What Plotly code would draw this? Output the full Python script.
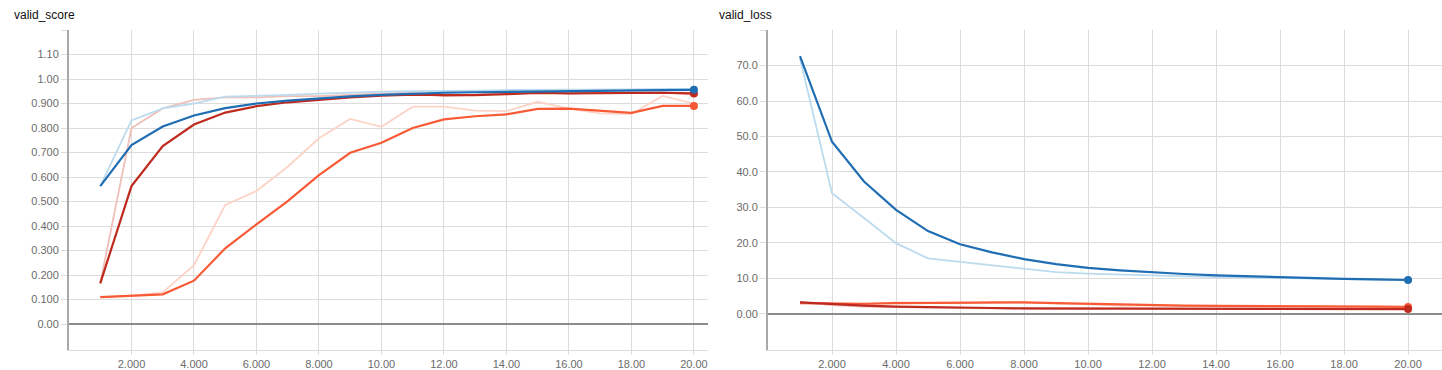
import plotly.graph_objects as go

steps = list(range(1, 21))

# valid_score (left)
score_blue = [0.563, 0.730, 0.806, 0.851, 0.881, 0.900, 0.912, 0.921, 0.929, 0.935,
              0.940, 0.944, 0.946, 0.948, 0.950, 0.952, 0.953, 0.954, 0.955, 0.956]
score_blue_raw = [0.563, 0.831, 0.880, 0.900, 0.928, 0.930, 0.935, 0.940, 0.945, 0.948,
                  0.950, 0.950, 0.952, 0.955, 0.955, 0.957, 0.958, 0.958, 0.960, 0.960]
score_red = [0.166, 0.563, 0.726, 0.814, 0.863, 0.889, 0.905, 0.916, 0.925, 0.932,
             0.936, 0.934, 0.934, 0.938, 0.943, 0.941, 0.943, 0.944, 0.944, 0.941]
score_red_raw = [0.166, 0.800, 0.880, 0.915, 0.925, 0.925, 0.930, 0.930, 0.935, 0.940,
                 0.945, 0.930, 0.935, 0.945, 0.950, 0.940, 0.945, 0.945, 0.945, 0.935]
score_orange = [0.110, 0.114, 0.121, 0.177, 0.309, 0.407, 0.502, 0.608, 0.699, 0.740,
                0.800, 0.835, 0.848, 0.856, 0.878, 0.879, 0.869, 0.862, 0.890, 0.890]
score_orange_raw = [0.110, 0.115, 0.129, 0.240, 0.486, 0.543, 0.642, 0.758, 0.837, 0.805,
                    0.887, 0.887, 0.871, 0.869, 0.907, 0.879, 0.860, 0.857, 0.931, 0.900]

# valid_loss (right)
loss_blue = [72.7, 48.5, 37.3, 29.3, 23.3, 19.6, 17.3, 15.4, 14.0, 12.9,
             12.2, 11.6, 11.2, 10.8, 10.5, 10.2, 10.0, 9.8, 9.7, 9.5]
loss_blue_raw = [72.0, 34.0, 27.0, 19.9, 15.6, 14.6, 13.7, 12.5, 11.7, 11.3,
                 11.0, 10.8, 10.5, 10.3, 10.2, 10.0, 9.8, 9.7, 9.6, 9.5]
loss_red = [3.2, 2.7, 2.3, 2.0, 1.8, 1.7, 1.6, 1.5, 1.5, 1.4,
            1.4, 1.4, 1.4, 1.35, 1.35, 1.3, 1.3, 1.3, 1.3, 1.3]
loss_red_raw = [3.3, 2.4, 2.0, 1.8, 1.6, 1.6, 1.5, 1.4, 1.4, 1.3,
                1.4, 1.3, 1.4, 1.3, 1.3, 1.3, 1.3, 1.3, 1.3, 1.3]
loss_orange = [3.0, 2.9, 2.8, 3.0, 3.1, 3.0, 3.2, 3.2, 3.0, 2.8,
               2.5, 2.4, 2.3, 2.2, 2.2, 2.1, 2.1, 2.0, 2.0, 1.9]
loss_orange_raw = [3.0, 2.8, 2.7, 3.2, 3.1, 2.9, 3.3, 3.2, 2.9, 2.6,
                   2.3, 2.3, 2.2, 2.1, 2.2, 2.0, 2.1, 1.9, 2.0, 1.8]

score_ticks = [0.0, 0.1, 0.2, 0.3, 0.4, 0.5, 0.6, 0.7, 0.8, 0.9, 1.0, 1.1, 1.2]
score_labels = ["0.00", "0.100", "0.200", "0.300", "0.400", "0.500", "0.600",
                "0.700", "0.800", "0.900", "1.00", "1.10", ""]
loss_ticks = [0, 10, 20, 30, 40, 50, 60, 70, 80]
loss_labels = ["0.00", "10.0", "20.0", "30.0", "40.0", "50.0", "60.0", "70.0", ""]
x_ticks = [2, 4, 6, 8, 10, 12, 14, 16, 18, 20]
x_labels = ["2.000", "4.000", "6.000", "8.000", "10.00", "12.00", "14.00",
            "16.00", "18.00", "20.00"]

BLUE, BLUE_L = "#1f6db3", "#bcdbef"
RED, RED_L = "#bf2a1f", "#efc0b9"
ORANGE, ORANGE_L = "#f95a36", "#fdd3c6"

fig = go.Figure()


def add_run(xa, ya, raw, smooth, col, col_l):
    fig.add_trace(go.Scatter(x=steps, y=raw, mode="lines", xaxis=xa, yaxis=ya,
                             line=dict(color=col_l, width=1.8), hoverinfo="skip"))
    fig.add_trace(go.Scatter(x=steps, y=smooth, mode="lines", xaxis=xa, yaxis=ya,
                             line=dict(color=col, width=2.2)))
    fig.add_trace(go.Scatter(x=[steps[-1]], y=[smooth[-1]], mode="markers",
                             xaxis=xa, yaxis=ya,
                             marker=dict(color=col, size=8)))


add_run("x", "y", score_orange_raw, score_orange, ORANGE, ORANGE_L)
add_run("x", "y", score_red_raw, score_red, RED, RED_L)
add_run("x", "y", score_blue_raw, score_blue, BLUE, BLUE_L)

add_run("x2", "y2", loss_orange_raw, loss_orange, ORANGE, ORANGE_L)
add_run("x2", "y2", loss_blue_raw, loss_blue, BLUE, BLUE_L)
add_run("x2", "y2", loss_red_raw, loss_red, RED, RED_L)

FONT = "Liberation Sans, Arial, sans-serif"
tickfont = dict(family=FONT, size=11, color="#6b6b6b")
grid = "#dcdcdc"

xcommon = dict(tickvals=x_ticks, ticktext=x_labels, showgrid=True, gridcolor=grid,
               gridwidth=1.2, zeroline=False, showline=True, linecolor=grid,
               linewidth=1.2, ticks="outside", ticklen=4, tickcolor=grid,
               tickfont=tickfont, fixedrange=True, automargin=False)
ycommon = dict(showgrid=True, gridcolor=grid, gridwidth=1.2, zeroline=True,
               zerolinecolor="#8c8c8c", zerolinewidth=1.8, showline=True,
               linecolor="#a8a8a8", linewidth=2, ticks="outside", ticklen=6,
               tickcolor=grid, tickfont=tickfont, fixedrange=True, automargin=False)

W, H, T, B = 1442, 370, 30, 20
plot_h = H - T - B


def px_to_paper(px, py):
    return px / W, 1 + (T - py) / plot_h


tx1, ty1 = px_to_paper(12, 15)
tx2, ty2 = px_to_paper(717, 15)

title_font = dict(family=FONT, size=12, color="#111")

fig.update_layout(
    width=W, height=H,
    margin=dict(l=0, r=0, t=T, b=B, autoexpand=False),
    paper_bgcolor="white", plot_bgcolor="white",
    showlegend=False,
    xaxis=dict(domain=[69 / W, 708 / W], range=[0, 20.45], anchor="y", **xcommon),
    yaxis=dict(domain=[0, 1], range=[-0.106, 1.2], anchor="x",
               tickvals=score_ticks, ticktext=score_labels, **ycommon),
    xaxis2=dict(domain=[768 / W, 1.0], range=[0, 21.06], anchor="y2", **xcommon),
    yaxis2=dict(domain=[0, 1], range=[-10.25, 80.05], anchor="x2",
                tickvals=loss_ticks, ticktext=loss_labels, **ycommon),
    annotations=[
        dict(text="valid_score", x=tx1, y=ty1, xref="paper", yref="paper",
             showarrow=False, xanchor="left", yanchor="middle", font=title_font),
        dict(text="valid_loss", x=tx2, y=ty2, xref="paper", yref="paper",
             showarrow=False, xanchor="left", yanchor="middle", font=title_font),
    ],
)

fig.write_html("out.html",
               config={"displayModeBar": False},
               post_script="document.body.style.margin='0px';document.body.style.overflow='hidden';")
